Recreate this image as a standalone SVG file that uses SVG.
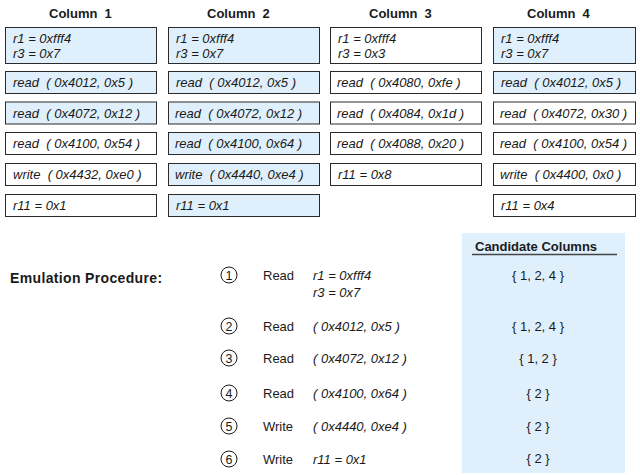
<svg xmlns="http://www.w3.org/2000/svg" width="640" height="475" viewBox="0 0 640 475">
<style>
text{font-family:"Liberation Sans",Arial,sans-serif;font-size:13px;fill:#1a1a1a;white-space:pre}
.h{font-weight:bold}
.ep{font-size:14px;letter-spacing:0.35px}
.i{font-style:italic}
.b{fill:#ffffff;stroke:#2a2a2a;stroke-width:1}
.hl{fill:#dff0fc;stroke:#2a2a2a;stroke-width:1}
.c{fill:none;stroke:#1a1a1a;stroke-width:1}
.n{font-size:12.5px;text-anchor:middle}
.s{text-anchor:middle}
</style>
<rect width="640" height="475" fill="#ffffff"/>
<g id="headers">
<text class="h" x="49" y="18">Column  1</text>
<text class="h" x="207" y="18">Column  2</text>
<text class="h" x="369" y="18">Column  3</text>
<text class="h" x="527" y="18">Column  4</text>
</g>
<g id="col1">
<g id="c1b1"><rect class="hl" x="5.5" y="27.5" width="151" height="36"/><text class="i" x="13" y="42.5">r1 = 0xfff4</text><text class="i" x="13" y="57.5">r3 = 0x7</text></g>
<g id="c1b2"><rect class="hl" x="5.5" y="71.5" width="151" height="22"/><text class="i" x="13" y="87">read  ( 0x4012, 0x5 )</text></g>
<g id="c1b3"><rect class="hl" x="5.5" y="102" width="151" height="22"/><text class="i" x="13" y="117.5">read  ( 0x4072, 0x12 )</text></g>
<g id="c1b4"><rect class="b" x="5.5" y="132.5" width="151" height="22"/><text class="i" x="13" y="148">read  ( 0x4100, 0x54 )</text></g>
<g id="c1b5"><rect class="b" x="5.5" y="163.5" width="151" height="22"/><text class="i" x="13" y="179">write  ( 0x4432, 0xe0 )</text></g>
<g id="c1b6"><rect class="b" x="5.5" y="194.5" width="151" height="22"/><text class="i" x="13" y="210">r11 = 0x1</text></g>
</g>
<g id="col2">
<g id="c2b1"><rect class="hl" x="168.5" y="27.5" width="151" height="36"/><text class="i" x="176" y="42.5">r1 = 0xfff4</text><text class="i" x="176" y="57.5">r3 = 0x7</text></g>
<g id="c2b2"><rect class="hl" x="168.5" y="71.5" width="151" height="22"/><text class="i" x="176" y="87">read  ( 0x4012, 0x5 )</text></g>
<g id="c2b3"><rect class="hl" x="168.5" y="102" width="151" height="22"/><text class="i" x="175" y="117.5">read  ( 0x4072, 0x12 )</text></g>
<g id="c2b4"><rect class="hl" x="168.5" y="132.5" width="151" height="22"/><text class="i" x="175" y="148">read  ( 0x4100, 0x64 )</text></g>
<g id="c2b5"><rect class="hl" x="168.5" y="163.5" width="151" height="22"/><text class="i" x="175" y="179">write  ( 0x4440, 0xe4 )</text></g>
<g id="c2b6"><rect class="hl" x="168.5" y="194.5" width="151" height="22"/><text class="i" x="176" y="210">r11 = 0x1</text></g>
</g>
<g id="col3">
<g id="c3b1"><rect class="b" x="330.5" y="27.5" width="151" height="36"/><text class="i" x="338" y="42.5">r1 = 0xfff4</text><text class="i" x="338" y="57.5">r3 = 0x3</text></g>
<g id="c3b2"><rect class="b" x="330.5" y="71.5" width="151" height="22"/><text class="i" x="337" y="87">read  ( 0x4080, 0xfe )</text></g>
<g id="c3b3"><rect class="b" x="330.5" y="102" width="151" height="22"/><text class="i" x="337" y="117.5">read  ( 0x4084, 0x1d )</text></g>
<g id="c3b4"><rect class="b" x="330.5" y="132.5" width="151" height="22"/><text class="i" x="337" y="148">read  ( 0x4088, 0x20 )</text></g>
<g id="c3b5"><rect class="b" x="330.5" y="163.5" width="151" height="22"/><text class="i" x="338" y="179">r11 = 0x8</text></g>
</g>
<g id="col4">
<g id="c4b1"><rect class="hl" x="493.5" y="27.5" width="142" height="36"/><text class="i" x="501" y="42.5">r1 = 0xfff4</text><text class="i" x="501" y="57.5">r3 = 0x7</text></g>
<g id="c4b2"><rect class="hl" x="493.5" y="71.5" width="142" height="22"/><text class="i" x="501" y="87">read  ( 0x4012, 0x5 )</text></g>
<g id="c4b3"><rect class="b" x="493.5" y="102" width="142" height="22"/><text class="i" x="500" y="117.5">read  ( 0x4072, 0x30 )</text></g>
<g id="c4b4"><rect class="b" x="493.5" y="132.5" width="142" height="22"/><text class="i" x="500" y="148">read  ( 0x4100, 0x54 )</text></g>
<g id="c4b5"><rect class="b" x="493.5" y="163.5" width="142" height="22"/><text class="i" x="500" y="179">write  ( 0x4400, 0x0 )</text></g>
<g id="c4b6"><rect class="b" x="493.5" y="194.5" width="142" height="22"/><text class="i" x="501" y="210">r11 = 0x4</text></g>
</g>
<g id="connectors"></g>
<g id="candidates">
<rect x="462" y="233" width="163" height="240" fill="#dff0fc"/>
<text class="h" x="475" y="251">Candidate Columns</text>
<line x1="472" y1="254.5" x2="617" y2="254.5" stroke="#444" stroke-width="1.5"/>
<text class="s" x="538" y="279.5">{ 1, 2, 4 }</text>
<text class="s" x="538" y="331">{ 1, 2, 4 }</text>
<text class="s" x="538" y="362.5">{ 1, 2 }</text>
<text class="s" x="538" y="397.5">{ 2 }</text>
<text class="s" x="538" y="431">{ 2 }</text>
<text class="s" x="538" y="463">{ 2 }</text>
</g>
<g id="procedure">
<text class="h ep" x="10" y="283">Emulation Procedure:</text>
<g id="step1"><circle class="c" cx="229" cy="275" r="8"/><text class="n" x="229" y="279.5">1</text><text x="263" y="279.5">Read</text><text class="i" x="313" y="279.5">r1 = 0xfff4</text><text class="i" x="313" y="296.5">r3 = 0x7</text></g>
<g id="step2"><circle class="c" cx="229" cy="326" r="8"/><text class="n" x="229" y="330.5">2</text><text x="263" y="330.5">Read</text><text class="i" x="313" y="330.5">( 0x4012, 0x5 )</text></g>
<g id="step3"><circle class="c" cx="229" cy="358" r="8"/><text class="n" x="229" y="362.5">3</text><text x="263" y="362.5">Read</text><text class="i" x="313" y="362.5">( 0x4072, 0x12 )</text></g>
<g id="step4"><circle class="c" cx="229" cy="393" r="8"/><text class="n" x="229" y="397.5">4</text><text x="263" y="397.5">Read</text><text class="i" x="313" y="397.5">( 0x4100, 0x64 )</text></g>
<g id="step5"><circle class="c" cx="229" cy="426" r="8"/><text class="n" x="229" y="430.5">5</text><text x="263" y="430.5">Write</text><text class="i" x="313" y="430.5">( 0x4440, 0xe4 )</text></g>
<g id="step6"><circle class="c" cx="229" cy="459" r="8"/><text class="n" x="229" y="463.5">6</text><text x="263" y="463.5">Write</text><text class="i" x="313" y="463.5">r11 = 0x1</text></g>
</g>
</svg>
